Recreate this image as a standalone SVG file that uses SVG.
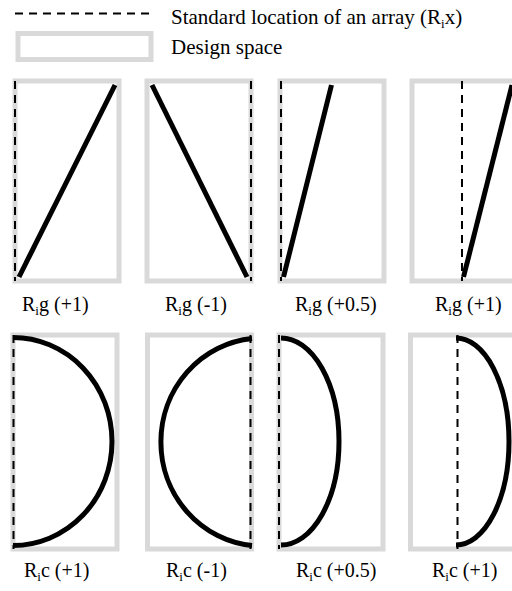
<svg xmlns="http://www.w3.org/2000/svg" width="512" height="591" viewBox="0 0 512 591">
<style>
  .space { fill: none; stroke: #d9d9d9; stroke-width: 5; }
  .std { fill: none; stroke: #000; stroke-width: 2; stroke-dasharray: 8 6; }
  .arr { fill: none; stroke: #000; stroke-width: 5; }
  text { font-family: "Liberation Serif", "Times New Roman", serif; font-size: 20px; fill: #000; }
  .leg { font-size: 21px; }
  .sub { font-size: 13px; }
</style>
<rect width="512" height="591" fill="#fff"/>
<g id="legend">
  <line class="std" x1="15" y1="13.5" x2="152" y2="13.5"/>
  <text class="leg" x="171" y="23.5">Standard location of an array (R<tspan class="sub" dy="4">i</tspan><tspan dy="-4">x)</tspan></text>
  <rect class="space" x="18" y="33.5" width="133" height="26"/>
  <text class="leg" x="171" y="54">Design space</text>
</g>
<g id="g1">
  <rect class="space" x="15" y="81" width="104" height="200"/>
  <line class="std" x1="15" y1="81" x2="15" y2="281"/>
  <line class="arr" x1="19" y1="277" x2="115" y2="85"/>
  <text x="22" y="311">R<tspan class="sub" dy="4">i</tspan><tspan dy="-4">g (+1)</tspan></text>
</g>
<g id="g2">
  <rect class="space" x="147" y="81" width="104" height="200"/>
  <line class="std" x1="251" y1="81" x2="251" y2="281"/>
  <line class="arr" x1="152" y1="85" x2="247" y2="277"/>
  <text x="165" y="311">R<tspan class="sub" dy="4">i</tspan><tspan dy="-4">g (-1)</tspan></text>
</g>
<g id="g3">
  <rect class="space" x="280" y="81" width="104" height="200"/>
  <line class="std" x1="281" y1="81" x2="281" y2="281"/>
  <line class="arr" x1="283.5" y1="277" x2="331.5" y2="85"/>
  <text x="295" y="311">R<tspan class="sub" dy="4">i</tspan><tspan dy="-4">g (+0.5)</tspan></text>
</g>
<g id="g4">
  <rect class="space" x="412" y="81" width="104" height="200"/>
  <line class="std" x1="462" y1="81" x2="462" y2="281"/>
  <line class="arr" x1="463.5" y1="277" x2="512" y2="85"/>
  <text x="435" y="311">R<tspan class="sub" dy="4">i</tspan><tspan dy="-4">g (+1)</tspan></text>
</g>
<g id="c1">
  <rect class="space" x="13" y="335" width="104" height="214"/>
  <line class="std" x1="13.5" y1="335" x2="13.5" y2="549"/>
  <path class="arr" d="M13,337.5 A99,104 0 0 1 13,545.5"/>
  <text x="24" y="577">R<tspan class="sub" dy="4">i</tspan><tspan dy="-4">c (+1)</tspan></text>
</g>
<g id="c2">
  <rect class="space" x="147.5" y="335" width="104" height="214"/>
  <line class="std" x1="250.5" y1="335" x2="250.5" y2="549"/>
  <path class="arr" d="M252,338.5 A101,104 0 0 0 252,545.5"/>
  <text x="166" y="577">R<tspan class="sub" dy="4">i</tspan><tspan dy="-4">c (-1)</tspan></text>
</g>
<g id="c3">
  <rect class="space" x="279" y="335" width="104" height="214"/>
  <line class="std" x1="279" y1="335" x2="279" y2="549"/>
  <path class="arr" d="M281,338 A58,103.5 0 0 1 281,545"/>
  <text x="296" y="577">R<tspan class="sub" dy="4">i</tspan><tspan dy="-4">c (+0.5)</tspan></text>
</g>
<g id="c4">
  <rect class="space" x="410.5" y="335" width="104" height="214"/>
  <line class="std" x1="457.5" y1="335" x2="457.5" y2="549"/>
  <path class="arr" d="M456,338 A53,103.5 0 0 1 456,545"/>
  <text x="432" y="577">R<tspan class="sub" dy="4">i</tspan><tspan dy="-4">c (+1)</tspan></text>
</g>
</svg>
